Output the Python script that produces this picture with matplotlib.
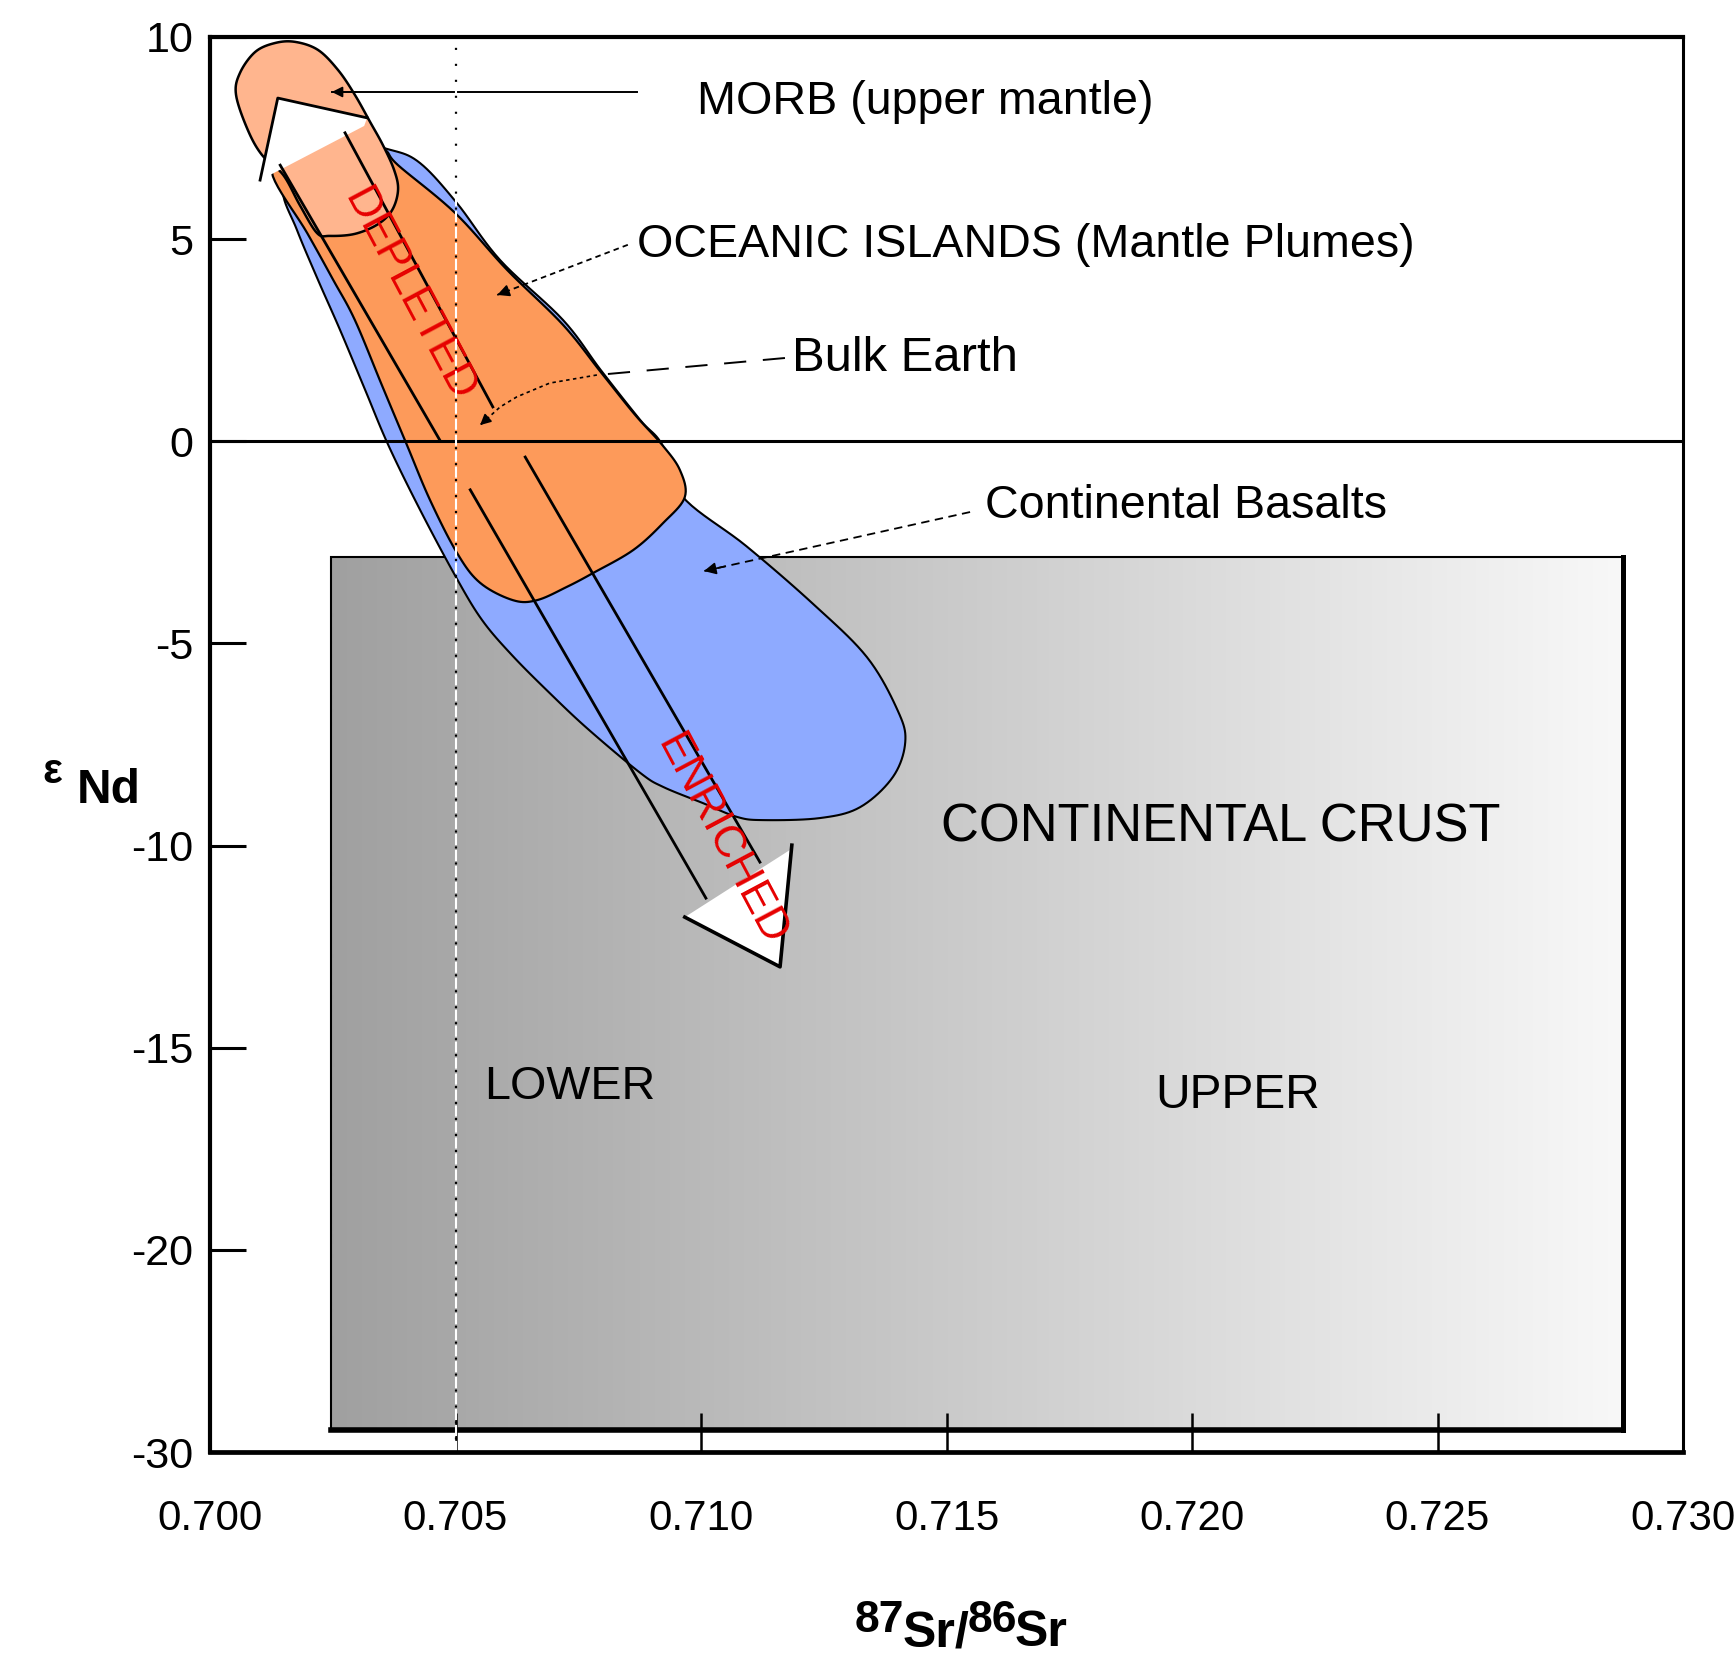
import numpy as np
import matplotlib
matplotlib.use("Agg")
import matplotlib.pyplot as plt
from matplotlib import font_manager as fm
from matplotlib.patches import Polygon, Rectangle
from matplotlib.colors import LinearSegmentedColormap

plt.rcParams['lines.scale_dashes'] = False

# ---------------- data ----------------
x_ticks = [0.700, 0.705, 0.710, 0.715, 0.720, 0.725, 0.730]
x_tick_labels = ['0.700', '0.705', '0.710', '0.715', '0.720', '0.725', '0.730']
y_ticks = [10, 5, 0, -5, -10, -15, -20, -25]
y_tick_labels = ['10', '5', '0', '-5', '-10', '-15', '-20', '-30']
bulk_earth_sr = 0.705
bulk_earth_nd = 0.0

crust_x = [0.70246, 0.72878]
crust_y = [-24.45, -2.86]

blue_x = [0.70149, 0.70193, 0.70275, 0.70367, 0.70428, 0.70503, 0.70591, 0.70719, 0.70796,
          0.70876, 0.70921, 0.70961, 0.71092, 0.71228, 0.71338, 0.71401, 0.71416, 0.71391,
          0.71324, 0.71242, 0.71126, 0.71073, 0.71004, 0.70923, 0.70876, 0.70770,
          0.70692, 0.70615, 0.70554, 0.70501, 0.70428, 0.70363, 0.70316, 0.70265, 0.70220,
          0.70177]
blue_y = [6.22, 6.83, 7.38, 7.21, 6.88, 5.89, 4.48, 3.00, 1.76,
          0.53, -0.09, -1.35, -2.59, -4.02, -5.34, -6.67, -7.44, -8.30,
          -9.05, -9.32, -9.37, -9.29, -8.95, -8.55, -8.20, -7.12,
          -6.23, -5.29, -4.42, -3.36, -1.70, -0.09, 1.27, 2.75, 3.99,
          5.23]

orange_x = [0.70126, 0.70183, 0.70306, 0.70356, 0.70383, 0.70499, 0.70605, 0.70719, 0.70796,
            0.70866, 0.70921, 0.70957, 0.70967, 0.70923, 0.70862, 0.70780, 0.70727, 0.70666,
            0.70617, 0.70550, 0.70503, 0.70448, 0.70401, 0.70350, 0.70295, 0.70251, 0.70198]
orange_y = [6.66, 7.01, 7.45, 7.21, 6.83, 5.65, 4.24, 2.88, 1.71,
            0.65, -0.09, -0.71, -1.38, -2.02, -2.69, -3.26, -3.60, -3.93,
            -3.93, -3.50, -2.76, -1.45, -0.09, 1.39, 3.00, 3.99, 5.15]

morb_x = [0.70053, 0.70061, 0.70092, 0.70132, 0.70173, 0.70220, 0.70261, 0.70295, 0.70326,
          0.70352, 0.70375, 0.70383, 0.70371, 0.70342, 0.70295, 0.70244, 0.70218, 0.70183,
          0.70149, 0.70106, 0.70077]
morb_y = [8.57, 9.11, 9.63, 9.85, 9.88, 9.68, 9.18, 8.57, 7.90,
          7.33, 6.71, 6.22, 5.72, 5.37, 5.13, 5.08, 5.15, 5.84,
          6.59, 7.08, 7.70]

dep_head_x = [0.70138, 0.70102, 0.70153, 0.70314, 0.70320]
dep_head_y = [8.49, 6.46, 6.78, 7.80, 8.00]
dep_left_x, dep_left_y = [0.70143, 0.70468], [6.83, 0.03]
dep_right_x, dep_right_y = [0.70275, 0.70576], [7.63, 0.85]

enr_head_x = [0.70967, 0.71181, 0.71161]
enr_head_y = [-11.77, -10.11, -13.00]
enr_edge_x = [0.70967, 0.71161, 0.71185]
enr_edge_y = [-11.77, -13.00, -9.99]
enr_left_x, enr_left_y = [0.70530, 0.71010], [-1.20, -11.30]
enr_right_x, enr_right_y = [0.70642, 0.71120], [-0.39, -10.41]

morb_lead_x, morb_lead_y = [0.70870, 0.70248], [8.64, 8.64]
oib_lead_x, oib_lead_y = [0.70851, 0.70585], [4.86, 3.62]
bulk_dash_x, bulk_dash_y = [0.71171, 0.70788], [2.06, 1.64]
bulk_dot_x = [0.70788, 0.70692, 0.70625, 0.70591, 0.70550]
bulk_dot_y = [1.64, 1.44, 1.10, 0.85, 0.40]
cb_lead_x, cb_lead_y = [0.71548, 0.71006], [-1.75, -3.21]

labels = [
    ('MORB (upper mantle)', 0.70992, 8.10, 40),
    ('OCEANIC ISLANDS (Mantle Plumes)', 0.70870, 4.56, 40),
    ('Bulk Earth', 0.71185, 1.74, 42),
    ('Continental Basalts', 0.71578, -1.90, 40),
    ('CONTINENTAL CRUST', 0.71489, -9.89, 45),
    ('LOWER', 0.70558, -16.27, 40),
    ('UPPER', 0.71925, -16.49, 41),
]
arrow_words = [('DEPLETED', 0.70405, 3.62, -62), ('ENRICHED', 0.71040, -9.86, -62)]

# ---------------- fonts ----------------
names = {f.name for f in fm.fontManager.ttflist}
if 'Liberation Sans Narrow' in names:
    NARROW, K = 'Liberation Sans Narrow', 1.0
else:
    NARROW, K = 'Liberation Sans', 0.84
REG = 'Liberation Sans'


def smooth_closed(xs, ys, n=10):
    """Closed uniform Catmull-Rom curve through the traced outline points."""
    P = np.column_stack([xs, ys])
    N = len(P)
    out = []
    for i in range(N):
        p0, p1, p2, p3 = P[i - 1], P[i], P[(i + 1) % N], P[(i + 2) % N]
        for t in np.linspace(0, 1, n, endpoint=False):
            out.append(0.5 * (2 * p1 + (-p0 + p2) * t + (2 * p0 - 5 * p1 + 4 * p2 - p3) * t * t
                              + (-p0 + 3 * p1 - 3 * p2 + p3) * t ** 3))
    return np.array(out)


# ---------------- figure ----------------
W, H = 1736, 1654
fig = plt.figure(figsize=(W / 100, H / 100), dpi=100)
ax = fig.add_axes([210 / W, 1 - 1452 / H, (1683 - 210) / W, (1452 - 37) / H])

cmap = LinearSegmentedColormap.from_list('crust', ['#a0a0a0', '#f8f8f8'])
grad = np.linspace(0, 1, 512)[None, :]
ax.imshow(grad, cmap=cmap, extent=[crust_x[0], crust_x[1], crust_y[0], crust_y[1]],
          aspect='auto', zorder=1, interpolation='bilinear')
ax.add_patch(Rectangle((crust_x[0], crust_y[0]), crust_x[1] - crust_x[0], crust_y[1] - crust_y[0],
                       fill=False, ec='black', lw=1.5, zorder=1.5))
ax.plot([crust_x[1], crust_x[1]], crust_y, color='black', lw=3.6, zorder=1.5, solid_capstyle='projecting')
ax.plot(crust_x, [crust_y[0], crust_y[0]], color='black', lw=4.0, zorder=1.5, solid_capstyle='projecting')

ax.add_patch(Polygon(smooth_closed(blue_x, blue_y), closed=True, fc='#8eaaff', ec='black', lw=1.5, zorder=2))
ax.add_patch(Polygon(smooth_closed(orange_x, orange_y), closed=True, fc='#fd9a5a', ec='black', lw=1.6, zorder=3))
ax.add_patch(Polygon(smooth_closed(morb_x, morb_y), closed=True, fc='#ffb58e', ec='black', lw=1.8, zorder=4))

# depleted arrow
ax.add_patch(Polygon(np.column_stack([dep_head_x, dep_head_y]), closed=True, fc='white', ec='none', zorder=5))
ax.plot([dep_head_x[1], dep_head_x[0], dep_head_x[4]], [dep_head_y[1], dep_head_y[0], dep_head_y[4]],
        color='black', lw=2.0, zorder=5.5)
ax.plot(dep_left_x, dep_left_y, color='black', lw=2.0, zorder=5.5)
ax.plot(dep_right_x, dep_right_y, color='black', lw=2.0, zorder=5.5)

# enriched arrow
ax.plot(enr_left_x, enr_left_y, color='black', lw=2.0, zorder=5.5)
ax.plot(enr_right_x, enr_right_y, color='black', lw=2.0, zorder=5.5)
ax.add_patch(Polygon(np.column_stack([enr_head_x, enr_head_y]), closed=True, fc='white', ec='none', zorder=5))
ax.plot(enr_edge_x, enr_edge_y, color='black', lw=2.6, zorder=5.5)

for word, wx, wy, rot in arrow_words:
    ax.text(wx, wy, word, color='#e60000', fontsize=32, family=REG, rotation=rot,
            rotation_mode='anchor', ha='center', va='center', zorder=6)

# reference lines
ax.axhline(bulk_earth_nd, color='black', lw=2.2, zorder=6)
ax.plot([bulk_earth_sr, bulk_earth_sr], [-25, 10], color='white', lw=1.5, dashes=(8, 3.5), zorder=8)
ax.plot([bulk_earth_sr, bulk_earth_sr], [-25, 10], color='black', lw=1.6,
        linestyle=(2.5, (1.5, 10.0)), zorder=8.1)


# leader lines
def head(x0, y0, x1, y1, ms=14):
    ax.annotate('', xy=(x1, y1), xytext=(x1 - 0.08 * (x1 - x0), y1 - 0.08 * (y1 - y0)),
                arrowprops=dict(arrowstyle='-|>', color='black', lw=1.2, mutation_scale=ms,
                                shrinkA=0, shrinkB=0), zorder=7)


ax.plot(morb_lead_x, morb_lead_y, color='black', lw=1.4, zorder=7)
head(morb_lead_x[0], morb_lead_y[0], morb_lead_x[1], morb_lead_y[1], 16)
ax.plot(oib_lead_x, oib_lead_y, color='black', lw=1.3, dashes=(4, 3), zorder=7)
head(oib_lead_x[0], oib_lead_y[0], oib_lead_x[1], oib_lead_y[1], 18)
ax.plot(bulk_dash_x, bulk_dash_y, color='black', lw=1.4, dashes=(16, 12), zorder=7)
ax.plot(bulk_dot_x, bulk_dot_y, color='black', lw=1.2, dashes=(2.5, 2.5), zorder=7)
head(bulk_dot_x[-2], bulk_dot_y[-2], bulk_dot_x[-1], bulk_dot_y[-1], 16)
ax.plot(cb_lead_x, cb_lead_y, color='black', lw=1.3, dashes=(6, 4), zorder=7)
head(cb_lead_x[0], cb_lead_y[0], cb_lead_x[1], cb_lead_y[1], 18)

for s, lx, ly, fs in labels:
    ax.text(lx, ly, s, fontsize=fs * K, family=NARROW, ha='left', va='baseline', zorder=7)

# axes styling
ax.set_xlim(0.700, 0.730)
ax.set_ylim(-25, 10)
ax.set_xticks(x_ticks)
ax.set_xticklabels(x_tick_labels, family=NARROW, fontsize=36 * K)
ax.set_yticks(y_ticks)
ax.set_yticklabels(y_tick_labels, family=NARROW, fontsize=37 * K)
ax.tick_params(axis='x', direction='in', length=28, width=1.8, pad=34)
ax.tick_params(axis='y', direction='in', length=26, width=2.2, pad=12)
for side, lw in [('left', 3.0), ('top', 3.0), ('bottom', 3.4), ('right', 2.2)]:
    ax.spines[side].set_linewidth(lw)
    ax.spines[side].set_zorder(9)

# axis titles
fig.text(52 / W, 1 - 772 / H, 'ε', fontsize=30, family=REG, weight='bold', ha='center', va='center')
fig.text(77 / W, 1 - 803 / H, 'Nd', fontsize=41 * K, family=NARROW, weight='bold', ha='left', va='baseline')

r = fig.canvas.get_renderer()
xpos = 855
base = 1646
for s, dy, fs in [('87', 14, 38), ('Sr/', 0, 43), ('86', 14, 38), ('Sr', 0, 43)]:
    t = fig.text(xpos / W, 1 - (base - dy) / H, s, fontsize=fs * K, family=NARROW,
                 weight='bold', ha='left', va='baseline')
    bb = t.get_window_extent(renderer=r)
    xpos = bb.x1 - 2

fig.savefig('out.png', dpi=100)
